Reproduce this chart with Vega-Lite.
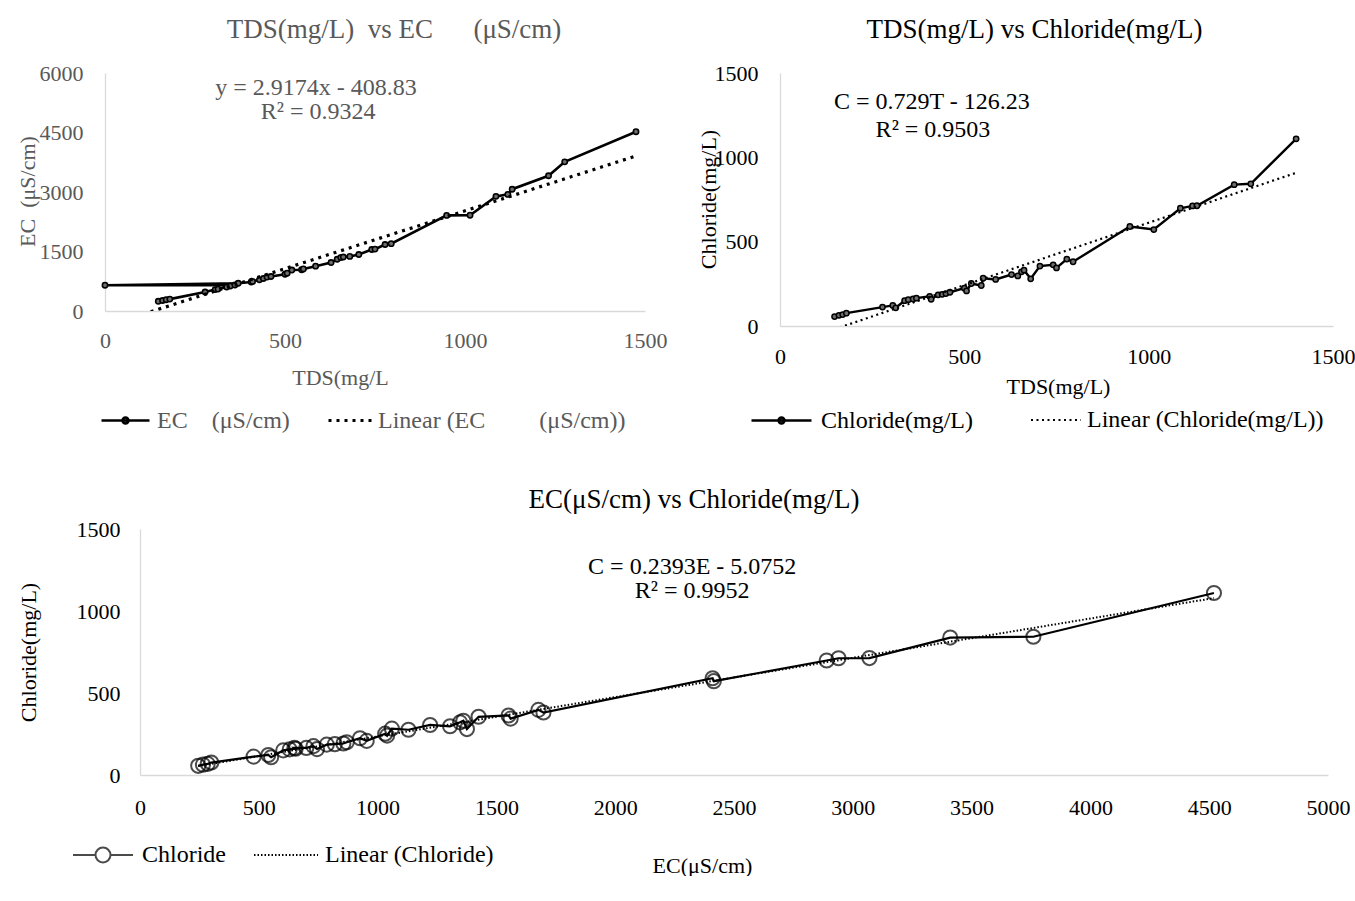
{
  "$schema": "https://vega.github.io/schema/vega-lite/v6.json",
  "padding": {"left": 15, "top": 16, "right": 0, "bottom": 0},
  "background": "white",
  "datasets": {
    "samples": [
      {"i":1,"TDS":148,"EC":245,"Cl":56},
      {"i":2,"TDS":160,"EC":265,"Cl":63},
      {"i":3,"TDS":170,"EC":285,"Cl":68},
      {"i":4,"TDS":180,"EC":300,"Cl":76},
      {"i":5,"TDS":278,"EC":478,"Cl":112},
      {"i":6,"TDS":306,"EC":540,"Cl":122},
      {"i":7,"TDS":314,"EC":552,"Cl":108},
      {"i":8,"TDS":338,"EC":603,"Cl":150},
      {"i":9,"TDS":348,"EC":630,"Cl":156},
      {"i":10,"TDS":361,"EC":655,"Cl":160},
      {"i":11,"TDS":0,"EC":650,"Cl":165},
      {"i":12,"TDS":370,"EC":700,"Cl":165},
      {"i":13,"TDS":406,"EC":730,"Cl":176},
      {"i":14,"TDS":410,"EC":745,"Cl":158},
      {"i":15,"TDS":429,"EC":786,"Cl":185},
      {"i":16,"TDS":440,"EC":820,"Cl":188},
      {"i":17,"TDS":450,"EC":856,"Cl":192},
      {"i":18,"TDS":461,"EC":870,"Cl":200},
      {"i":19,"TDS":500,"EC":926,"Cl":224},
      {"i":20,"TDS":506,"EC":954,"Cl":208},
      {"i":21,"TDS":519,"EC":1032,"Cl":252},
      {"i":22,"TDS":546,"EC":1040,"Cl":240},
      {"i":23,"TDS":551,"EC":1060,"Cl":283},
      {"i":24,"TDS":585,"EC":1130,"Cl":276},
      {"i":25,"TDS":628,"EC":1221,"Cl":305},
      {"i":26,"TDS":645,"EC":1305,"Cl":297},
      {"i":27,"TDS":655,"EC":1347,"Cl":321},
      {"i":28,"TDS":662,"EC":1361,"Cl":331},
      {"i":29,"TDS":680,"EC":1376,"Cl":280},
      {"i":30,"TDS":705,"EC":1425,"Cl":355},
      {"i":31,"TDS":741,"EC":1551,"Cl":363},
      {"i":32,"TDS":750,"EC":1560,"Cl":344},
      {"i":33,"TDS":778,"EC":1677,"Cl":397},
      {"i":34,"TDS":795,"EC":1698,"Cl":381},
      {"i":35,"TDS":949,"EC":2410,"Cl":590},
      {"i":36,"TDS":1014,"EC":2415,"Cl":572},
      {"i":37,"TDS":1086,"EC":2890,"Cl":698},
      {"i":38,"TDS":1119,"EC":2940,"Cl":712},
      {"i":39,"TDS":1131,"EC":3070,"Cl":713},
      {"i":40,"TDS":1232,"EC":3410,"Cl":838},
      {"i":41,"TDS":1277,"EC":3760,"Cl":843},
      {"i":42,"TDS":1400,"EC":4520,"Cl":1110}
    ],
    "ecByTds": [
      {"i":1,"TDS":148,"EC":245},
      {"i":2,"TDS":160,"EC":265},
      {"i":3,"TDS":170,"EC":285},
      {"i":4,"TDS":180,"EC":300},
      {"i":5,"TDS":278,"EC":478},
      {"i":6,"TDS":306,"EC":540},
      {"i":7,"TDS":314,"EC":552},
      {"i":8,"TDS":338,"EC":603},
      {"i":9,"TDS":348,"EC":630},
      {"i":10,"TDS":361,"EC":655},
      {"i":11,"TDS":0,"EC":650},
      {"i":12,"TDS":370,"EC":700},
      {"i":13,"TDS":406,"EC":730},
      {"i":14,"TDS":410,"EC":745},
      {"i":15,"TDS":429,"EC":786},
      {"i":16,"TDS":440,"EC":820},
      {"i":17,"TDS":450,"EC":856},
      {"i":18,"TDS":461,"EC":870},
      {"i":19,"TDS":500,"EC":926},
      {"i":20,"TDS":506,"EC":954},
      {"i":21,"TDS":519,"EC":1032},
      {"i":22,"TDS":546,"EC":1040},
      {"i":23,"TDS":551,"EC":1060},
      {"i":24,"TDS":585,"EC":1130},
      {"i":25,"TDS":628,"EC":1221},
      {"i":26,"TDS":645,"EC":1305},
      {"i":27,"TDS":655,"EC":1347},
      {"i":28,"TDS":662,"EC":1361},
      {"i":29,"TDS":680,"EC":1376},
      {"i":30,"TDS":705,"EC":1425},
      {"i":31,"TDS":741,"EC":1551},
      {"i":32,"TDS":750,"EC":1560},
      {"i":33,"TDS":778,"EC":1677},
      {"i":34,"TDS":795,"EC":1698},
      {"i":35,"TDS":949,"EC":2410},
      {"i":36,"TDS":1014,"EC":2415},
      {"i":37,"TDS":1086,"EC":2890},
      {"i":38,"TDS":1119,"EC":2940},
      {"i":39,"TDS":1131,"EC":3070},
      {"i":40,"TDS":1232,"EC":3410},
      {"i":41,"TDS":1277,"EC":3760},
      {"i":42,"TDS":1475,"EC":4520}
    ]
  },
  "config": {
    "font": "Liberation Serif",
    "view": {"stroke": null},
    "axis": {
      "domainColor": "#d9d9d9", "domainWidth": 1.3, "ticks": false, "tickSize": 0, "grid": false, "format": "d",
      "labelFont": "Liberation Serif", "labelFontSize": 22, "labelColor": "black", "labelFlush": false,
      "titleFont": "Liberation Serif", "titleFontSize": 22, "titleFontWeight": "normal", "titleColor": "black"
    },
    "legend": {"labelFont": "Liberation Serif", "labelFontSize": 24, "labelColor": "black", "labelLimit": 0},
    "title": {"font": "Liberation Serif", "fontSize": 27, "fontWeight": "normal", "color": "black"}
  },
  "bounds": "flush",
  "spacing": 456,
  "resolve": {"scale": {"color": "independent", "strokeDash": "independent"}, "legend": {"color": "independent", "strokeDash": "independent"}},
  "vconcat": [
    {
      "bounds": "flush",
      "spacing": 135,
      "resolve": {"scale": {"color": "independent", "strokeDash": "independent"}, "legend": {"color": "independent", "strokeDash": "independent"}},
      "hconcat": [
        {
          "width": 540, "height": 238,
          "title": {"text": "TDS(mg/L)\u00a0\u00a0vs EC\u00a0\u00a0\u00a0\u00a0\u00a0\u00a0(μS/cm)", "color": "#595959", "dx": 19, "offset": 18},
          "layer": [
            {
              "data": {"name": "ecByTds"},
              "mark": {"type": "line", "strokeWidth": 2.6, "point": {"filled": false, "fill": "#6e6e6e", "size": 28, "strokeWidth": 1.6}},
              "encoding": {
                "x": {"field": "TDS", "type": "quantitative", "scale": {"domain": [0, 1500], "nice": false},
                  "axis": {"values": [0, 500, 1000, 1500], "title": "TDS(mg/L", "labelColor": "#595959", "titleColor": "#595959", "labelPadding": 19, "titleX": 235, "titleY": 66, "titleBaseline": "middle"}},
                "y": {"field": "EC", "type": "quantitative", "scale": {"domain": [0, 6000], "nice": false},
                  "axis": {"values": [0, 1500, 3000, 4500, 6000], "title": "EC\u00a0\u00a0(μS/cm)", "labelColor": "#595959", "titleColor": "#595959", "labelPadding": 22, "titleX": -78, "titleY": 118, "titleBaseline": "middle"}},
                "order": {"field": "i", "type": "quantitative"},
                "color": {"datum": "EC\u00a0\u00a0\u00a0\u00a0(μS/cm)", "scale": {"range": ["black"]},
                  "legend": {"title": null, "orient": "none", "legendX": -5, "legendY": 322, "direction": "horizontal", "padding": 0,
                    "symbolType": "M-1,0L1,0M-0.125,0A0.125,0.125,0,1,1,0.125,0A0.125,0.125,0,1,1,-0.125,0Z",
                    "symbolSize": 2304, "symbolStrokeWidth": 2.5, "symbolStrokeColor": "black", "symbolFillColor": "#404040",
                    "labelColor": "#595959", "labelOffset": 6}}
              }
            },
            {
              "data": {"name": "ecByTds"},
              "transform": [{"regression": "EC", "on": "TDS"}],
              "mark": {"type": "line", "color": "black", "strokeWidth": 3.2, "clip": true},
              "encoding": {
                "x": {"field": "TDS", "type": "quantitative"},
                "y": {"field": "EC", "type": "quantitative"},
                "strokeDash": {"datum": "Linear (EC\u00a0\u00a0\u00a0\u00a0\u00a0\u00a0\u00a0\u00a0\u00a0(μS/cm))", "scale": {"range": [[3, 5]]},
                  "legend": {"title": null, "orient": "none", "legendX": 222, "legendY": 324, "direction": "horizontal", "padding": 0,
                    "symbolType": "stroke", "symbolSize": 1936, "symbolStrokeWidth": 3, "symbolStrokeColor": "black",
                    "labelColor": "#595959", "labelOffset": 4}}
              }
            },
            {
              "data": {"values": [{}]},
              "mark": {"type": "text", "fontSize": 24, "color": "#595959", "align": "center", "baseline": "middle"},
              "encoding": {"x": {"datum": 586, "type": "quantitative"}, "y": {"datum": 5621, "type": "quantitative"}, "text": {"value": "y = 2.9174x - 408.83"}}
            },
            {
              "data": {"values": [{}]},
              "mark": {"type": "text", "fontSize": 24, "color": "#595959", "align": "center", "baseline": "middle"},
              "encoding": {"x": {"datum": 592, "type": "quantitative"}, "y": {"datum": 5016, "type": "quantitative"}, "text": {"value": "R² = 0.9324"}}
            }
          ]
        },
        {
          "width": 553, "height": 253,
          "title": {"text": "TDS(mg/L) vs Chloride(mg/L)", "dx": -22, "offset": 18},
          "layer": [
            {
              "data": {"name": "samples"},
              "transform": [{"filter": "datum.TDS > 0"}],
              "mark": {"type": "line", "strokeWidth": 2.4, "point": {"filled": false, "fill": "#6e6e6e", "size": 28, "strokeWidth": 1.5}},
              "encoding": {
                "x": {"field": "TDS", "type": "quantitative", "scale": {"domain": [0, 1500], "nice": false},
                  "axis": {"values": [0, 500, 1000, 1500], "title": "TDS(mg/L)", "labelPadding": 20, "titleX": 278, "titleY": 60, "titleBaseline": "middle"}},
                "y": {"field": "Cl", "type": "quantitative", "scale": {"domain": [0, 1500], "nice": false},
                  "axis": {"values": [0, 500, 1000, 1500], "title": "Chloride(mg/L)", "labelPadding": 22, "titleX": -72, "titleY": 126, "titleBaseline": "middle"}},
                "order": {"field": "i", "type": "quantitative"},
                "color": {"datum": "Chloride(mg/L)", "scale": {"range": ["black"]},
                  "legend": {"title": null, "orient": "none", "legendX": -30, "legendY": 316, "direction": "horizontal", "padding": 0,
                    "symbolType": "M-1,0L1,0M-0.1,0A0.1,0.1,0,1,1,0.1,0A0.1,0.1,0,1,1,-0.1,0Z",
                    "symbolSize": 3600, "symbolStrokeWidth": 2.4, "symbolStrokeColor": "black", "symbolFillColor": "#404040",
                    "labelOffset": 8}}
              }
            },
            {
              "data": {"name": "samples"},
              "transform": [{"filter": "datum.TDS > 0"}, {"regression": "Cl", "on": "TDS"}],
              "mark": {"type": "line", "color": "black", "strokeWidth": 2.2, "clip": true},
              "encoding": {
                "x": {"field": "TDS", "type": "quantitative"},
                "y": {"field": "Cl", "type": "quantitative"},
                "strokeDash": {"datum": "Linear (Chloride(mg/L))", "scale": {"range": [[2, 3.5]]},
                  "legend": {"title": null, "orient": "none", "legendX": 250, "legendY": 321, "direction": "horizontal", "padding": 0,
                    "symbolType": "stroke", "symbolSize": 2500, "symbolStrokeWidth": 2, "symbolStrokeColor": "black",
                    "labelOffset": 5}}
              }
            },
            {
              "data": {"values": [{}]},
              "mark": {"type": "text", "fontSize": 24, "color": "black", "align": "center", "baseline": "middle"},
              "encoding": {"x": {"datum": 412, "type": "quantitative"}, "y": {"datum": 1328, "type": "quantitative"}, "text": {"value": "C = 0.729T - 126.23"}}
            },
            {
              "data": {"values": [{}]},
              "mark": {"type": "text", "fontSize": 24, "color": "black", "align": "center", "baseline": "middle"},
              "encoding": {"x": {"datum": 415, "type": "quantitative"}, "y": {"datum": 1162, "type": "quantitative"}, "text": {"value": "R² = 0.9503"}}
            }
          ]
        }
      ]
    },
    {
      "bounds": "flush",
      "spacing": 0,
      "resolve": {"scale": {"color": "independent", "strokeDash": "independent"}, "legend": {"color": "independent", "strokeDash": "independent"}},
      "hconcat": [
        {
          "width": 35, "height": 1,
          "data": {"values": [{}]},
          "mark": {"type": "point", "opacity": 0}
        },
        {
          "width": 1188, "height": 246,
          "title": {"text": "EC(μS/cm) vs Chloride(mg/L)", "dx": -40, "offset": 4},
          "layer": [
            {
              "data": {"name": "samples"},
              "mark": {"type": "line", "strokeWidth": 2.2},
              "encoding": {
                "x": {"field": "EC", "type": "quantitative", "scale": {"domain": [0, 5000], "nice": false},
                  "axis": {"values": [0, 500, 1000, 1500, 2000, 2500, 3000, 3500, 4000, 4500, 5000], "title": "EC(μS/cm)", "labelPadding": 22, "titleX": 562, "titleY": 90, "titleBaseline": "middle"}},
                "y": {"field": "Cl", "type": "quantitative", "scale": {"domain": [0, 1500], "nice": false},
                  "axis": {"values": [0, 500, 1000, 1500], "title": "Chloride(mg/L)", "labelPadding": 20, "titleX": -112, "titleY": 123, "titleBaseline": "middle"}},
                "order": {"field": "i", "type": "quantitative"},
                "color": {"datum": "Chloride", "scale": {"range": ["black"]},
                  "legend": {"title": null, "orient": "none", "legendX": -68, "legendY": 295, "direction": "horizontal", "padding": 0,
                    "symbolType": "M-1,0L-0.25,0M0.25,0L1,0M-0.25,0A0.25,0.25,0,1,1,0.25,0A0.25,0.25,0,1,1,-0.25,0Z",
                    "symbolSize": 3600, "symbolStrokeWidth": 2, "symbolStrokeColor": "black", "symbolFillColor": "white",
                    "labelOffset": 8}}
              }
            },
            {
              "data": {"name": "samples"},
              "mark": {"type": "point", "shape": "circle", "filled": false, "size": 200, "strokeWidth": 2},
              "encoding": {
                "x": {"field": "EC", "type": "quantitative"},
                "y": {"field": "Cl", "type": "quantitative"},
                "color": {"datum": "Chloride"}
              }
            },
            {
              "data": {"name": "samples"},
              "transform": [{"regression": "Cl", "on": "EC"}],
              "mark": {"type": "line", "color": "black", "strokeWidth": 2, "clip": true},
              "encoding": {
                "x": {"field": "EC", "type": "quantitative"},
                "y": {"field": "Cl", "type": "quantitative"},
                "strokeDash": {"datum": "Linear (Chloride)", "scale": {"range": [[1.5, 2]]},
                  "legend": {"title": null, "orient": "none", "legendX": 113, "legendY": 293, "direction": "horizontal", "padding": 0,
                    "symbolType": "stroke", "symbolSize": 4096, "symbolStrokeWidth": 2, "symbolStrokeColor": "black",
                    "labelOffset": 6}}
              }
            },
            {
              "data": {"values": [{}]},
              "mark": {"type": "text", "fontSize": 24, "color": "black", "align": "center", "baseline": "middle"},
              "encoding": {"x": {"datum": 2324, "type": "quantitative"}, "y": {"datum": 1268, "type": "quantitative"}, "text": {"value": "C = 0.2393E - 5.0752"}}
            },
            {
              "data": {"values": [{}]},
              "mark": {"type": "text", "fontSize": 24, "color": "black", "align": "center", "baseline": "middle"},
              "encoding": {"x": {"datum": 2324, "type": "quantitative"}, "y": {"datum": 1122, "type": "quantitative"}, "text": {"value": "R² = 0.9952"}}
            }
          ]
        }
      ]
    }
  ]
}
